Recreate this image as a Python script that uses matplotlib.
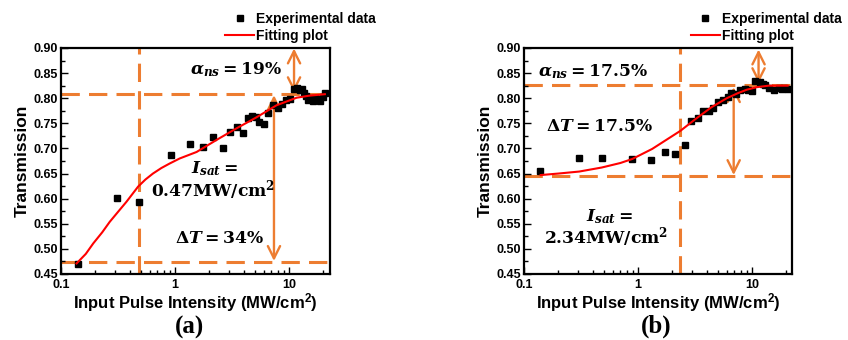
import numpy as np
import matplotlib
matplotlib.use("Agg")
import matplotlib.pyplot as plt
from matplotlib.ticker import MultipleLocator, FixedLocator, FixedFormatter, LogLocator, NullFormatter

plt.rcParams['font.family'] = ['Liberation Sans', 'DejaVu Sans']
plt.rcParams['mathtext.fontset'] = 'custom'
plt.rcParams['mathtext.rm'] = 'DejaVu Serif:bold'
plt.rcParams['mathtext.it'] = 'DejaVu Serif:italic:bold'
plt.rcParams['mathtext.bf'] = 'Liberation Sans:bold'

# ---------------- data: panel (a) ----------------
a_exp_x = [0.14, 0.31, 0.48, 0.92, 1.35, 1.75, 2.15, 2.63, 3.05, 3.5, 3.95, 4.35, 4.75,
           5.1, 5.5, 6.1, 6.55, 7.3, 7.95, 8.7, 9.5, 10.3, 11.1, 11.8, 12.4, 13.0, 13.5,
           14.1, 14.6, 15.3, 16.2, 17.0, 18.0, 18.9, 19.9, 20.8]
a_exp_y = [0.470, 0.601, 0.593, 0.686, 0.708, 0.703, 0.722, 0.700, 0.733, 0.742, 0.730,
           0.761, 0.765, 0.762, 0.753, 0.749, 0.771, 0.786, 0.780, 0.788, 0.796, 0.798,
           0.818, 0.820, 0.816, 0.818, 0.810, 0.805, 0.796, 0.800, 0.795, 0.800, 0.798,
           0.795, 0.803, 0.810]
a_fit_x = [0.137, 0.165, 0.192, 0.23, 0.268, 0.32, 0.376, 0.475, 0.55, 0.641, 0.76, 0.899,
           1.10, 1.55, 2.32, 3.47, 5.2, 7.8, 11.7, 15.0, 20.7]
a_fit_y = [0.471, 0.490, 0.511, 0.533, 0.554, 0.575, 0.594, 0.624, 0.638, 0.650, 0.661,
           0.670, 0.680, 0.693, 0.717, 0.740, 0.762, 0.786, 0.801, 0.805, 0.808]
a_hlines = [0.809, 0.474]
a_vline = 0.48
a_arrow_dt = (7.4, 0.476, 0.806)
a_arrow_ns = (11.1, 0.812, 0.899)

# ---------------- data: panel (b) ----------------
b_exp_x = [0.138, 0.305, 0.48, 0.89, 1.30, 1.71, 2.10, 2.56, 2.91, 3.39, 3.75, 4.18, 4.57,
           4.99, 5.52, 6.1, 6.6, 7.2, 7.9, 8.6, 9.3, 10.0, 10.7, 11.7, 12.4, 13.0, 14.2,
           15.6, 17.2, 18.2, 19.0, 20.5]
b_exp_y = [0.656, 0.680, 0.680, 0.679, 0.676, 0.693, 0.689, 0.707, 0.755, 0.760, 0.775,
           0.775, 0.780, 0.793, 0.796, 0.803, 0.810, 0.808, 0.816, 0.818, 0.816, 0.815,
           0.835, 0.833, 0.828, 0.826, 0.820, 0.816, 0.820, 0.818, 0.820, 0.818]
b_fit_x = [0.14, 0.2, 0.305, 0.48, 0.7, 0.89, 1.33, 1.74, 2.35, 3.17, 4.4, 6.0, 7.5, 9.0,
           11.0, 14.0, 20.5]
b_fit_y = [0.647, 0.650, 0.654, 0.662, 0.671, 0.679, 0.699, 0.716, 0.735, 0.758, 0.782,
           0.800, 0.810, 0.817, 0.822, 0.825, 0.825]
b_hlines = [0.827, 0.645]
b_vline = 2.35
b_arrow_dt = (6.9, 0.647, 0.822)
b_arrow_ns = (11.4, 0.830, 0.897)

y_ticks = [0.45, 0.50, 0.55, 0.60, 0.65, 0.70, 0.75, 0.80, 0.85, 0.90]
x_ticks = [0.1, 1, 10]
x_tick_labels = ['0.1', '1', '10']

ORANGE = '#ED7D31'
W, H = 848, 340

fig = plt.figure(figsize=(W / 100, H / 100), dpi=100)
axa = fig.add_axes([61 / W, 1 - 274 / H, (330 - 61) / W, (274 - 48) / H])
axb = fig.add_axes([524 / W, 1 - 274 / H, (792 - 524) / W, (274 - 48) / H])


def style_axes(ax, xmax):
    ax.set_xscale('log')
    ax.set_xlim(0.1, xmax)
    ax.set_ylim(0.45, 0.90)
    ax.xaxis.set_major_locator(FixedLocator(x_ticks))
    ax.xaxis.set_major_formatter(FixedFormatter(x_tick_labels))
    ax.xaxis.set_minor_locator(LogLocator(base=10, subs=np.arange(2, 10)))
    ax.xaxis.set_minor_formatter(NullFormatter())
    ax.set_yticks(y_ticks)
    ax.set_yticklabels(['%.2f' % v for v in y_ticks])
    ax.yaxis.set_minor_locator(MultipleLocator(0.025))
    ax.tick_params(which='both', direction='in', top=False, right=False, width=1.0,
                   labelsize=9, pad=2)
    ax.tick_params(axis='x', which='major', pad=3.5)
    ax.tick_params(which='major', length=5)
    ax.tick_params(which='minor', length=3)
    for lab in ax.get_xticklabels() + ax.get_yticklabels():
        lab.set_fontweight('bold')
    for sp in ax.spines.values():
        sp.set_linewidth(1.6)
    ax.set_ylabel('Transmission', fontsize=12.5, fontweight='bold', labelpad=3)
    ax.set_xlabel(r'Input Pulse Intensity (MW/cm$^{\mathbf{2}}$)', fontsize=12,
                  fontweight='bold', labelpad=0)


def draw_panel(ax, ex, ey, fx, fy, hl, vl, adt, ans, xmax):
    style_axes(ax, xmax)
    for h in hl:
        ax.axhline(h, color=ORANGE, lw=2.2, ls=(0, (6, 3)), zorder=1)
    ax.axvline(vl, color=ORANGE, lw=2.2, ls=(0, (6, 3)), zorder=1)
    for (xx, y0, y1) in (adt, ans):
        ax.annotate('', xy=(xx, y0), xytext=(xx, y1),
                    arrowprops=dict(arrowstyle='<->', color=ORANGE, lw=1.7,
                                    mutation_scale=22, shrinkA=0, shrinkB=0), zorder=2)
    ax.plot(ex, ey, 's', color='black', ms=4, ls='none', label='Experimental data', zorder=3)
    ax.plot(fx, fy, '-', color='red', lw=1.5, label='Fitting plot', zorder=4)


draw_panel(axa, a_exp_x, a_exp_y, a_fit_x, a_fit_y, a_hlines, a_vline,
           a_arrow_dt, a_arrow_ns, 22.96)
draw_panel(axb, b_exp_x, b_exp_y, b_fit_x, b_fit_y, b_hlines, b_vline,
           b_arrow_dt, b_arrow_ns, 22.4)

TK = dict(fontsize=12.3, ha='center', va='center', zorder=5)
axa.text(3.47, 0.856, r'$\alpha_{ns} = 19\%$', **TK)
axa.text(2.24, 0.660, r'$I_{sat} =$', **TK)
axa.text(2.17, 0.617, r'$0.47\mathrm{MW/cm}^2$', **TK)
axa.text(2.48, 0.521, r'$\Delta T = 34\%$', **TK)

axb.text(0.40, 0.853, r'$\alpha_{ns} = 17.5\%$', **TK)
axb.text(0.458, 0.745, r'$\Delta T = 17.5\%$', **TK)
axb.text(0.56, 0.565, r'$I_{sat} =$', **TK)
axb.text(0.524, 0.524, r'$2.34\mathrm{MW/cm}^2$', **TK)

for ax, lx in ((axa, 225), (axb, 690.7)):
    ax.legend(loc='upper left', bbox_to_anchor=(lx / W, 1 - 12 / H),
              bbox_transform=fig.transFigure, frameon=False, numpoints=1,
              prop=dict(family='Liberation Sans', weight='bold', size=10),
              handlelength=2.1, handletextpad=0.15, labelspacing=0.2,
              borderpad=0, borderaxespad=0)

fig.text(190 / W, 1 - 327 / H, '(a)', fontsize=18, fontweight='bold',
         family='Liberation Serif', ha='center', va='center')
fig.text(655.7 / W, 1 - 326 / H, '(b)', fontsize=18, fontweight='bold',
         family='Liberation Serif', ha='center', va='center')

fig.savefig('out.png', dpi=100)
